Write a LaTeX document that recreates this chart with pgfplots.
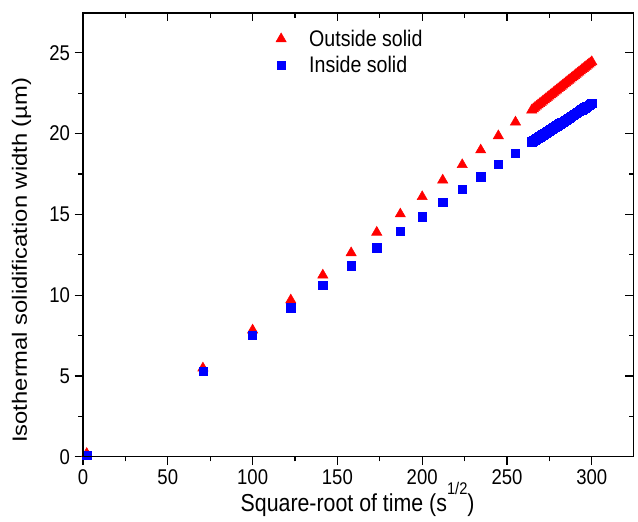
\documentclass[border=0pt]{standalone}
\usepackage{fontspec}
\setmainfont{Liberation Sans}
\usepackage{graphicx}
\usepackage{pgfplots}
\pgfplotsset{compat=1.18}
\definecolor{mred}{RGB}{255,0,0}
\definecolor{mblue}{RGB}{0,0,255}
\newcommand{\vs}[1]{\scalebox{1}[1.15]{#1}}
\pgfplotsset{
  common/.style={
    scale only axis, width=412.7pt, height=332.8pt,
    at={(0,0)}, anchor=south west,
    xmin=0, xmax=324.5, ymin=0, ymax=27.46,
    xtick={0,50,...,300}, minor x tick num=1,
    ytick={0,5,...,25}, minor y tick num=1,
    major tick length=6.2pt, minor tick length=3.4pt,
    axis line style={line width=0.9pt},
    every tick/.style={black, line width=0.9pt},
    tick label style={font=\fontsize{13.9}{16}\selectfont},
    /pgf/number format/assume math mode=true,
  },
  myleg/.style={legend image code/.code={\draw[mark repeat=2,mark phase=2,##1] plot coordinates {(0cm,0cm) (0.3cm,0cm) (0.6cm,0cm)}; \path (0.97cm,0cm);}},
}
\begin{document}
\begin{tikzpicture}
\useasboundingbox (-62.25pt,-48.2pt) rectangle (416.2pt,342.55pt);
\begin{axis}[common,
  tick align=outside, xtick pos=lower, ytick pos=left,
  xticklabel={\vs{\pgfmathprintnumber{\tick}}},
  yticklabel={\vs{\pgfmathprintnumber{\tick}}},
  xlabel={\vs{Square-root of time (s\raisebox{0.72em}{\fontsize{11}{11}\selectfont 1/2})}},
  ylabel={\scalebox{1.15}[1]{Isothermal solidification width (µm)}},
  xlabel style={font=\fontsize{16}{18}\selectfont, at={(axis description cs:0.499,-0.124)}, anchor=base},
  ylabel style={font=\fontsize{15.5}{18}\selectfont, at={(axis description cs:-0.1018,0.443)}, anchor=base},
  legend style={draw=none, fill=none, at={(axis description cs:0.343,0.975)}, anchor=north west,
    font=\fontsize{14.7}{17}\selectfont, row sep=2pt},
  legend cell align=left,
  clip=false,
]
\addplot[only marks, mark=triangle*, mark size=4.4pt, color=mred, draw=none, myleg]
coordinates {
(2.2,0.2) (70.7,5.49) (100,7.84) (122.5,9.70) (141.4,11.24) (158.1,12.62) (173.2,13.89)
(187.1,15.02) (200,16.09) (212.1,17.12) (223.6,18.07) (234.5,18.98) (244.9,19.86) (255.0,20.71)
(264.58,21.45) (265.52,21.53) (266.46,21.61) (267.39,21.69) (268.33,21.77) (269.26,21.85)
(270.19,21.92) (271.11,22.00) (272.03,22.08) (272.95,22.16) (273.86,22.23) (274.77,22.31)
(275.68,22.39) (276.59,22.46) (277.49,22.54) (278.39,22.62) (279.28,22.69) (280.18,22.77)
(281.07,22.84) (281.96,22.92) (282.84,22.99) (283.73,23.07) (284.60,23.14) (285.48,23.22)
(286.36,23.29) (287.23,23.36) (288.10,23.44) (288.97,23.51) (289.83,23.58) (290.69,23.66)
(291.55,23.73) (292.40,23.80) (293.26,23.87) (294.11,23.95) (294.96,24.02) (295.80,24.09)
(296.65,24.16) (297.49,24.23) (298.33,24.30) (299.17,24.37) (300.00,24.44)
};
\addlegendentry{\vs{Outside solid}}
\addplot[only marks, mark=square*, mark size=3.1pt, color=mblue, draw=none, myleg]
coordinates {
(2.2,0.1) (70.7,5.30) (100,7.51) (122.5,9.22) (141.4,10.61) (158.1,11.82) (173.2,12.93)
(187.1,13.95) (200,14.85) (212.1,15.74) (223.6,16.57) (234.5,17.33) (244.9,18.09) (255.0,18.77)
(264.58,19.49) (265.52,19.55) (266.46,19.62) (267.39,19.68) (268.33,19.74) (269.26,19.80)
(270.19,19.87) (271.11,19.93) (272.03,19.99) (272.95,20.05) (273.86,20.11) (274.77,20.17)
(275.68,20.24) (276.59,20.30) (277.49,20.36) (278.39,20.42) (279.28,20.48) (280.18,20.54)
(281.07,20.60) (281.96,20.66) (282.84,20.72) (283.73,20.78) (284.60,20.84) (285.48,20.89)
(286.36,20.95) (287.23,21.01) (288.10,21.07) (288.97,21.13) (289.83,21.19) (290.69,21.24)
(291.55,21.30) (292.40,21.36) (293.26,21.42) (294.11,21.47) (294.96,21.53) (295.80,21.59)
(296.65,21.65) (297.49,21.70) (298.33,21.76) (299.17,21.81) (300.00,21.87)
};
\addlegendentry{\vs{Inside solid}}
\end{axis}
\begin{axis}[common,
  tick align=inside, xtick pos=upper, ytick pos=right,
  xticklabels={}, yticklabels={},
]
\end{axis}
\end{tikzpicture}
\end{document}
